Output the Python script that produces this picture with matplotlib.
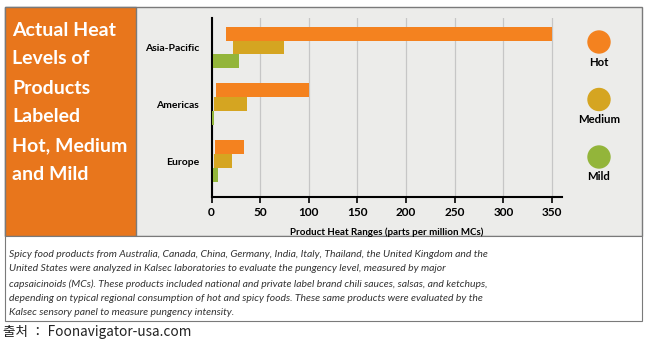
#!/usr/bin/env python3
"""Actual heat levels of products labeled hot, medium and mild."""

import matplotlib

matplotlib.use("Agg")
import matplotlib.pyplot as plt
from matplotlib.patches import Rectangle, Circle

# Data: product heat ranges (parts per million MCs), start and end of each bar
regions = ["Asia-Pacific", "Americas", "Europe"]
levels = ["Hot", "Medium", "Mild"]
range_start = {
    "Hot": [15, 5, 4],
    "Medium": [22, 3, 3],
    "Mild": [2, 0, 2],
}
range_end = {
    "Hot": [350, 100, 33],
    "Medium": [75, 36, 21],
    "Mild": [28, 3, 7],
}
x_ticks = [0, 50, 100, 150, 200, 250, 300, 350]

title_lines = ["Actual Heat", "Levels of", "Products", "Labeled", "Hot, Medium", "and Mild"]
caption = (
    "Spicy food products from Australia, Canada, China, Germany, India, Italy, Thailand, the United Kingdom and the\n"
    "United States were analyzed in Kalsec laboratories to evaluate the pungency level, measured by major\n"
    "capsaicinoids (MCs). These products included national and private label brand chili sauces, salsas, and ketchups,\n"
    "depending on typical regional consumption of hot and spicy foods. These same products were evaluated by the\n"
    "Kalsec sensory panel to measure pungency intensity."
)
source = "출처 ： Foonavigator-usa.com"

COLORS = {"Hot": "#F4821F", "Medium": "#D5A521", "Mild": "#93B53A"}
PANEL_ORANGE = "#E8761C"
PANEL_GRAY = "#ECECEA"

W, H = 650, 343
fig = plt.figure(figsize=(W / 100, H / 100), dpi=100)
fig.patch.set_facecolor("white")


def px(x, y):
    """pixel (top-left origin) -> figure fraction"""
    return x / W, 1 - y / H


def box(x0, y0, x1, y1, **kw):
    fx0, fy1 = px(x0, y1)
    fig.patches.append(
        Rectangle((fx0, fy1), (x1 - x0) / W, (y1 - y0) / H, transform=fig.transFigure, **kw)
    )


# background panels
box(5, 7, 642, 236, facecolor=PANEL_GRAY, edgecolor="#7a7a7a", linewidth=1.0, zorder=0)
box(5, 7, 136, 236, facecolor=PANEL_ORANGE, edgecolor="#7a7a7a", linewidth=1.0, zorder=0)
box(5, 236, 642, 321, facecolor="white", edgecolor="#7a7a7a", linewidth=0.8, zorder=0)

# title in orange panel
for i, line in enumerate(title_lines):
    fx, fy = px(12, 30 + i * 29)
    fig.text(fx, fy, line, color="white", fontsize=14, fontweight="bold",
             family="Lato", va="center", ha="left")

# main axes
left, top = px(211.5, 18)
_, bottom = px(0, 197)
ax = fig.add_axes([left, bottom, 350.2 / W, top - bottom])
ax.set_zorder(5)
ax.set_facecolor("none")

bar_h = 0.245
offsets = {"Hot": -bar_h, "Medium": 0.0, "Mild": bar_h}
for lvl in levels:
    ys = [i + offsets[lvl] for i in range(len(regions))]
    widths = [e - s for s, e in zip(range_start[lvl], range_end[lvl])]
    ax.barh(ys, widths, left=range_start[lvl], height=bar_h,
            color=COLORS[lvl], zorder=3)

ax.set_xlim(0, 360)
ax.set_ylim(2.634, -0.52)
ax.set_xticks(x_ticks)
ax.set_xticklabels([str(t) for t in x_ticks], fontsize=8.5, fontweight="bold", family="Lato")
ax.set_yticks(range(len(regions)))
ax.set_yticklabels(regions, fontsize=7.5, fontweight="bold", family="Lato")
ax.tick_params(axis="y", length=0, pad=9)
ax.tick_params(axis="x", length=4, width=1.2, pad=3)
ax.set_xlabel("Product Heat Ranges (parts per million MCs)", fontsize=7,
              fontweight="bold", family="Lato", labelpad=7)
for s in ("top", "right"):
    ax.spines[s].set_visible(False)
for s in ("left", "bottom"):
    ax.spines[s].set_linewidth(1.5)
ax.xaxis.grid(True, color="#c6c6c6", linewidth=0.9, zorder=0)
ax.set_axisbelow(True)

# legend circles
for i, lvl in enumerate(levels):
    cy = 42 + i * 57.5
    fx, fy = px(599, cy)
    fig.patches.append(Circle((599, H - cy), 11, transform=None, color=COLORS[lvl]))
    fig.text(fx, px(0, cy + 20)[1], lvl, fontsize=8.2, fontweight="bold", family="Lato",
             ha="center", va="center")

# caption
fx, fy = px(9, 250)
fig.text(fx, fy, caption, fontsize=7.5, style="italic", family="Lato", color="#333333",
         va="top", ha="left", linespacing=1.76)
fx, fy = px(3, 332)
fig.text(fx, fy, source, fontsize=9.8, family=["Noto Sans CJK KR", "DejaVu Sans"],
         va="center", ha="left", color="#222222")

fig.savefig("out.png", dpi=100)
